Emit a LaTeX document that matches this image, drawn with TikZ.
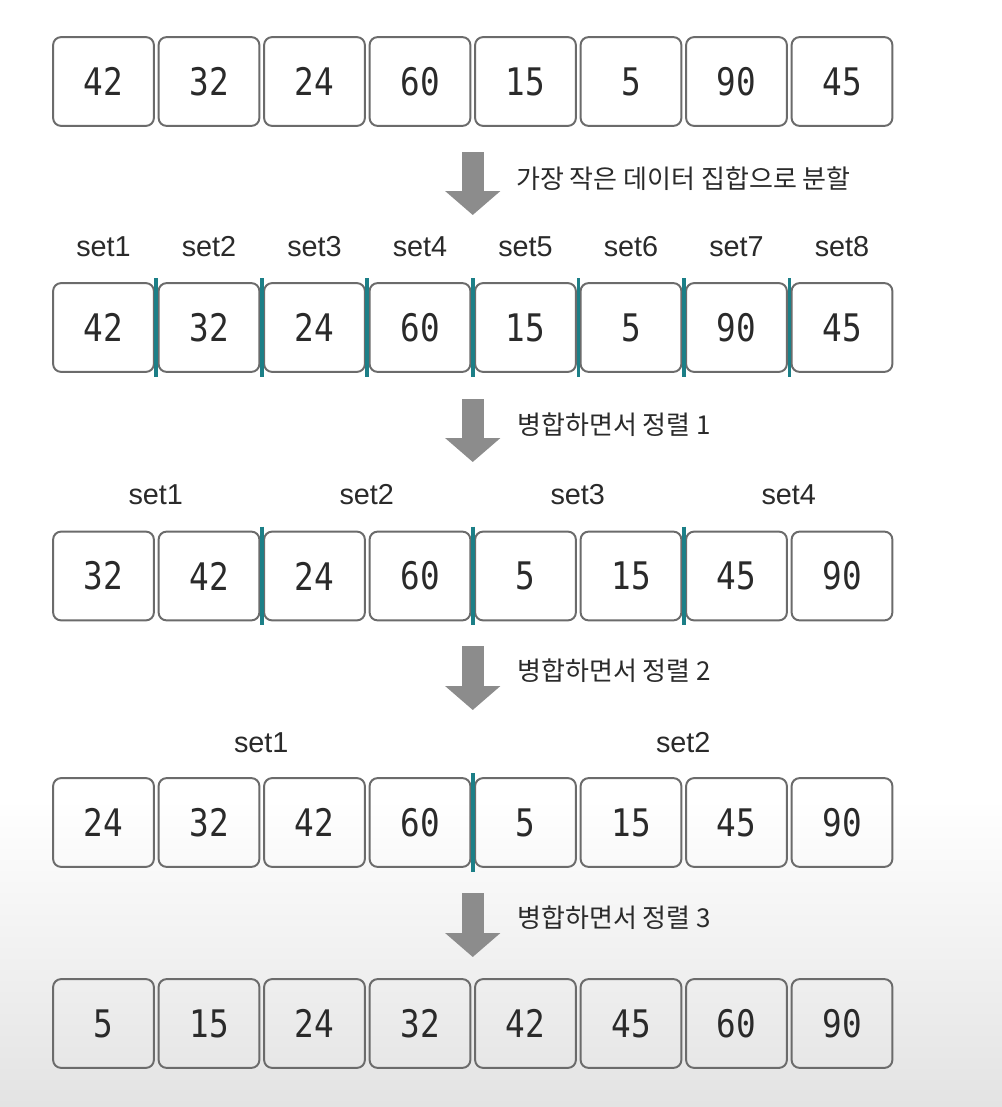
\documentclass[tikz,border=0pt]{standalone}
\usepackage{fontspec}
\setmainfont{Liberation Sans}
\newfontfamily\numfont[FakeStretch=0.86]{DejaVu Sans Mono}
\newfontfamily\krfont{Noto Sans CJK KR}
\usetikzlibrary{calc}
\usetikzlibrary{arrows.meta}
\definecolor{boxgray}{HTML}{6B6B6B}
\definecolor{septeal}{HTML}{1C7F87}
\definecolor{arrgray}{HTML}{8C8C8C}
\definecolor{inkgray}{HTML}{2A2A2A}
\tikzset{
    cell/.style={draw=boxgray, line width=1.4pt, rounded corners=2mm,
        minimum width=25.2mm, minimum height=22.2mm, inner sep=0pt,
        text=inkgray, font=\numfont\fontsize{27}{30}\selectfont},
    setlbl/.style={text=inkgray, font=\fontsize{20.5}{24}\selectfont},
    note/.style={anchor=west, text=inkgray, inner sep=0pt,
        font=\krfont\fontsize{18.5}{22}\selectfont},
    divider/.style={draw=septeal, line width=2.5pt},
    downarrow/.style={draw=arrgray, line width=5.5mm,
        -{Triangle[width=13.5mm, length=6mm]}}
}
\begin{document}
\begin{tikzpicture}[x=0.25mm, y=-0.25mm]
        \useasboundingbox (0,0) rectangle (1002,1107);
        \fill[white] (0,0) rectangle (1002,800);
        \shade[top color=white, bottom color=black!11, draw=none] (0,799) rectangle (1002,1107);

        % start
        \foreach \v [count=\i] in {42,32,24,60,15,5,90,45}
            \node[cell] (a\i) at ({103.5+105.5*(\i-1)},81.5) {\v};

        \coordinate (t1) at (472.75,152);
        \coordinate (h1) at (472.75,215);
        \draw[downarrow] (t1) -- (h1);
        \node[note] (n1) at (516,179) {가장 작은 데이터 집합으로 분할};

        % split into 8 sets
        \foreach \v [count=\i] in {42,32,24,60,15,5,90,45}
            \node[cell] (b\i) at ({103.5+105.5*(\i-1)},327.5) {\v};
        \foreach \i in {1,...,8}
            \node[setlbl] (sb\i) at ({103.5+105.5*(\i-1)},247) {set\i};
        \foreach \i [evaluate=\i as \j using int(\i+1)] in {1,...,7}
            \draw[divider] ($(b\i.north east)!.5!(b\j.north west)+(0,-4)$)
                -- ($(b\i.south east)!.5!(b\j.south west)+(0,4)$);

        \coordinate (t2) at (472.75,399);
        \coordinate (h2) at (472.75,462);
        \draw[downarrow] (t2) -- (h2);
        \node[note] (n2) at (517,425) {병합하면서 정렬 1};

        % merge 1
        \foreach \v [count=\i] in {32,42,24,60,5,15,45,90}
            \node[cell] (c\i) at ({103.5+105.5*(\i-1)},576) {\v};
        \foreach \i in {1,...,4}
            \node[setlbl] (sc\i) at ({155.75+211*(\i-1)},495) {set\i};
        \foreach \i [evaluate=\i as \j using int(\i+1)] in {2,4,6}
            \draw[divider] ($(c\i.north east)!.5!(c\j.north west)+(0,-4)$)
                -- ($(c\i.south east)!.5!(c\j.south west)+(0,4)$);

        \coordinate (t3) at (472.75,646);
        \coordinate (h3) at (472.75,710);
        \draw[downarrow] (t3) -- (h3);
        \node[note] (n3) at (517,671) {병합하면서 정렬 2};

        % merge 2
        \foreach \v [count=\i] in {24,32,42,60,5,15,45,90}
            \node[cell] (d\i) at ({103.5+105.5*(\i-1)},822.5) {\v};
        \node[setlbl] (sd1) at (261.25,743) {set1};
        \node[setlbl] (sd2) at (683.25,743) {set2};
        \draw[divider] ($(d4.north east)!.5!(d5.north west)+(0,-4)$)
            -- ($(d4.south east)!.5!(d5.south west)+(0,4)$);

        \coordinate (t4) at (472.75,893);
        \coordinate (h4) at (472.75,957);
        \draw[downarrow] (t4) -- (h4);
        \node[note] (n4) at (517,918) {병합하면서 정렬 3};

        % merge 3
        \foreach \v [count=\i] in {5,15,24,32,42,45,60,90}
            \node[cell] (e\i) at ({103.5+105.5*(\i-1)},1023.5) {\v};
    \end{tikzpicture}
\end{document}
